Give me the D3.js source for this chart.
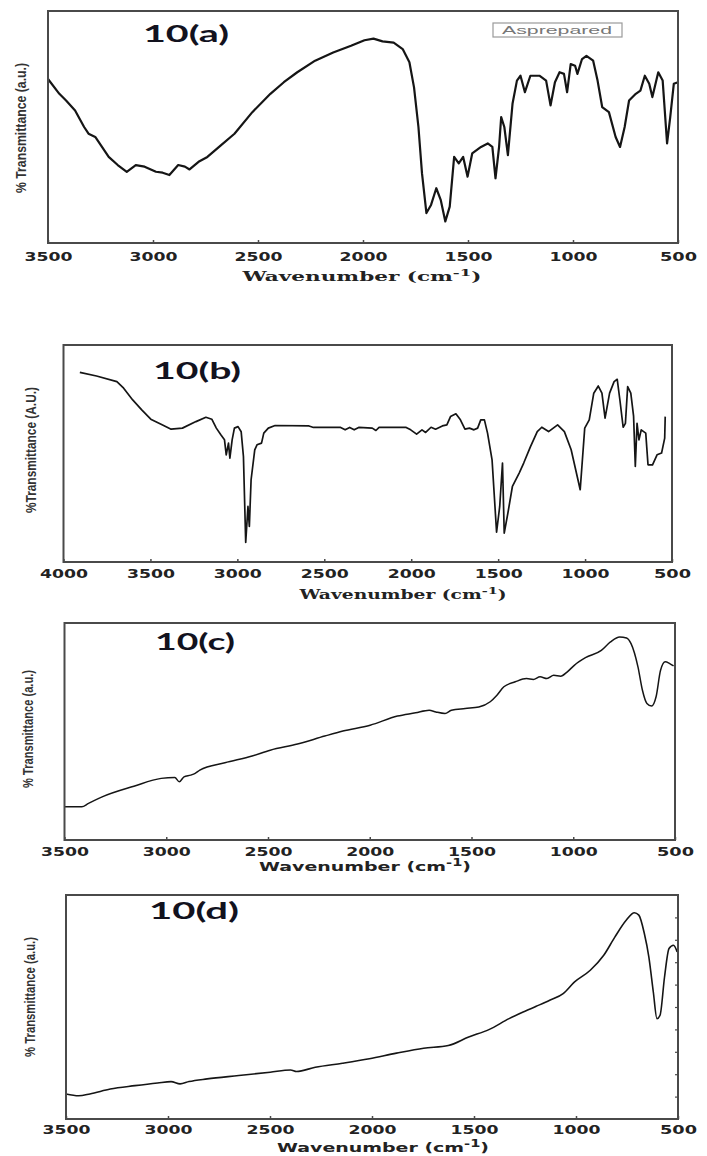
<!DOCTYPE html>
<html>
<head>
<meta charset="utf-8">
<script src="https://cdn.jsdelivr.net/npm/d3@7"></script>
<style>
body{margin:0;background:#fff;}
</style>
</head>
<body>
<script>
// FTIR spectra, wavenumber (cm-1) vs transmittance (arbitrary units, 0 = frame bottom, 100 = frame top)
var wnA = [3500,3446,3414,3371,3328,3307,3275,3211,3168,3125,3082,3040,2986,2954,2922,2880,2848,2826,2783,2741,2677,2612,2527,2441,2377,2313,2228,2142,2057,1993,1950,1907,1854,1811,1779,1757,1736,1719,1698,1676,1651,1630,1608,1587,1566,1544,1523,1502,1480,1438,1406,1384,1369,1352,1342,1327,1310,1288,1267,1250,1229,1203,1160,1128,1107,1086,1064,1043,1028,1011,990,979,957,936,904,883,861,829,797,776,754,733,701,679,658,637,622,594,573,552,537,520,500];
var tA = [70.7,64.3,61.4,57.1,50,47.1,45.7,37.1,33.6,30.7,33.6,32.9,30.7,30.3,29.3,33.6,32.9,31.7,35,37.1,42.1,47.1,56.4,64.3,69.3,73.6,78.6,82.1,85,87.4,88.1,86.9,86.4,83.6,77.9,67.1,50,30,12.9,16.4,23.6,18.6,9.3,15.7,37.1,34.3,37.1,28.6,38.6,41.4,42.9,41.4,27.9,41.4,54.3,50,37.9,60,70,72.1,65,72.1,72.1,70,59.3,69.3,73.6,72.9,65,77.1,76.4,72.9,79.3,80.7,78.6,70,58.6,56.4,45.7,41.4,50,61.4,64.3,65.7,72.1,68.6,62.9,73.6,70,42.9,54.3,68.6,69.3];

var wnB = [3906,3810,3693,3654,3602,3550,3498,3433,3381,3316,3238,3181,3147,3121,3095,3074,3064,3051,3043,3030,3017,2996,2978,2965,2952,2939,2931,2921,2900,2887,2861,2848,2822,2783,2588,2562,2406,2380,2354,2328,2302,2224,2203,2185,2029,2003,1969,1938,1917,1886,1860,1821,1795,1774,1743,1717,1691,1665,1639,1618,1600,1579,1561,1535,1509,1491,1475,1465,1444,1418,1379,1353,1314,1275,1249,1210,1158,1119,1080,1041,1028,1002,976,950,924,903,885,859,833,815,799,781,768,755,737,721,711,701,690,677,651,638,612,586,560,542,539];
var tB = [87.4,85.7,83.1,80.1,74.7,70.1,65.8,63.2,61.2,61.7,64.7,66.7,65.8,61.7,58.6,56.3,49.4,54.8,47.9,56.3,61.7,62.4,60.0,48.6,9.0,25.6,16.4,37.9,51.7,54.0,54.8,59.4,61.7,62.9,62.7,62,62,60.9,62,60.9,62,61.7,60.6,62,62,60.9,58.9,60.9,59.7,62.1,61.2,62.7,63.2,67,68.3,65.5,61.2,61.7,60.9,61.7,65.5,65.5,59.4,47.1,13.7,25.6,45.6,13.3,22.5,34.8,41,45.6,53.2,60.1,62.1,60.1,63.2,60.1,51.7,37.9,33.3,61.7,65.5,77.8,81.1,77.8,66.3,77.8,83.1,84.2,74.2,62.1,63.9,80.8,77.8,67.2,44,63.9,56.3,60.9,59.4,44.8,44.8,49.4,50.2,57.1,67];

var wnC = [3500,3415,3382,3315,3159,3025,2958,2936,2913,2880,2858,2835,2712,2578,2489,2355,2221,2132,1998,1864,1775,1708,1675,1630,1599,1531,1464,1408,1375,1341,1285,1230,1196,1163,1129,1096,1062,1029,995,940,862,817,772,738,716,682,660,638,615,593,571,548,526,507];
var tC = [15.3,15.3,16.9,19.9,24.8,28.4,28.8,26.8,29.1,29.9,30.7,32.2,35.6,38.7,41.4,44.2,47.9,50.2,52.9,57.1,58.6,59.8,59.0,58.3,59.8,60.6,61.3,63.7,66.7,70.6,72.9,74.4,74.0,75.2,74.4,75.9,75.5,77.5,80.5,84,87.4,91.3,93.6,93.1,90.5,79.8,69,62.9,61.7,66,78.2,82.1,81.3,80.2];

var wnD = [3500,3438,3383,3283,3162,3051,2985,2941,2897,2808,2653,2499,2399,2370,2278,2145,2013,1880,1747,1626,1526,1427,1328,1250,1195,1129,1063,1007,930,864,809,753,714,692,665,643,621,603,588,566,544,522,504];
var tD = [11.2,10.4,11.2,13.4,14.9,16.1,16.7,15.7,16.7,17.9,19.4,20.9,21.9,21.2,23.1,24.9,26.9,29.4,31.6,32.8,36.6,39.9,44.8,48.1,50.3,53,56,61.2,66.4,73.1,81.3,88.8,92.1,91,82.8,72.4,56.7,44.8,46.3,63.4,76.1,77.6,74.6];

var ticks3500 = [3500,3000,2500,2000,1500,1000,500];
var ticks4000 = [4000,3500,3000,2500,2000,1500,1000,500];
var yTicksD = [10,20,30,40,50,60,70,80,90];
var titles = ["10(a)","10(b)","10(c)","10(d)"];
var yLabels = ["% Transmittance (a.u.)","%Transmittance (A.U.)","% Transmittance (a.u.)","% Transmittance (a.u.)"];
var legendText = "Asprepared";

// layout of each panel (pixel positions), data comes from the arrays above
var panels = [
  {wn:wnA, t:tA, ticks:ticks3500, left:48, right:678, top:11, bottom:243, pad:9, lw:2.2,
   xl:{x:362, y:281, w:239, font:"'DejaVu Serif', serif"}, yl:{x:21, y:128, w:130}, ti:{x:143, y:42, w:86}, curve:d3.curveLinear},
  {wn:wnB, t:tB, ticks:ticks4000, left:63.5, right:672, top:345, bottom:562, pad:7, lw:1.7,
   xl:{x:403, y:599, w:207, font:"'DejaVu Serif', serif"}, yl:{x:31, y:450, w:126}, ti:{x:153, y:379, w:88}, curve:d3.curveLinear},
  {wn:wnC, t:tC, ticks:ticks3500, left:64.5, right:675, top:623, bottom:840, pad:7.5, lw:1.5,
   xl:{x:365, y:871, w:212, font:"'DejaVu Sans', sans-serif"}, yl:{x:28, y:729, w:118}, ti:{x:155, y:650, w:80}, curve:d3.curveMonotoneX},
  {wn:wnD, t:tD, ticks:ticks3500, left:66, right:678, top:895, bottom:1119, pad:6.5, lw:1.6, yTicks:yTicksD,
   xl:{x:383, y:1152, w:212, font:"'DejaVu Sans', sans-serif"}, yl:{x:30, y:997, w:120}, ti:{x:149, y:919, w:90}, curve:d3.curveMonotoneX}
];

var svg = d3.select("body").append("svg")
  .attr("width", 707)
  .attr("height", 1156);

function stretch(sel, len) {
  sel.attr("textLength", len).attr("lengthAdjust", "spacingAndGlyphs");
}

panels.forEach(function(p, i) {
  var x = d3.scaleLinear().domain([p.ticks[0], p.ticks[p.ticks.length - 1]]).range([p.left, p.right]);
  var y = d3.scaleLinear().domain([0, 100]).range([p.bottom, p.top]);
  var g = svg.append("g");

  //spectrum line
  var line = d3.line()
    .x(function(d) { return x(d[0]); })
    .y(function(d) { return y(d[1]); })
    .curve(p.curve);
  g.append("path")
    .datum(d3.zip(p.wn, p.t))
    .attr("fill", "none")
    .attr("stroke", "#151515")
    .attr("stroke-width", p.lw)
    .attr("stroke-linejoin", "round")
    .attr("d", line);

  //frame
  g.append("rect")
    .attr("x", p.left).attr("y", p.top)
    .attr("width", p.right - p.left).attr("height", p.bottom - p.top)
    .attr("fill", "none")
    .attr("stroke", "#4a4a4a")
    .attr("stroke-width", 2);

  //bottom axis with small inward ticks
  var ax = g.append("g")
    .attr("transform", "translate(0," + p.bottom + ")")
    .call(d3.axisBottom(x).tickValues(p.ticks).tickSize(-3).tickPadding(p.pad).tickFormat(d3.format("d")));
  ax.select(".domain").remove();
  ax.selectAll(".tick line").attr("stroke", "#4a4a4a").attr("stroke-width", 1.5);
  ax.selectAll(".tick text")
    .attr("fill", "#222")
    .style("font-family", "'DejaVu Sans', sans-serif")
    .style("font-weight", "bold")
    .style("font-size", "12px")
    .each(function(d) {
      stretch(d3.select(this), String(d).length == 4 ? 48 : 37);
    });

  //right axis ticks (only panel d shows them)
  if (p.yTicks) {
    var ay = g.append("g")
      .attr("transform", "translate(" + p.right + ",0)")
      .call(d3.axisLeft(y).tickValues(p.yTicks).tickSize(3).tickFormat(""));
    ay.select(".domain").remove();
    ay.selectAll(".tick line").attr("stroke", "#4a4a4a").attr("stroke-width", 1.2);
  }

  //x axis label
  var xt = g.append("text")
    .attr("x", p.xl.x).attr("y", p.xl.y)
    .attr("text-anchor", "middle")
    .attr("fill", "#222")
    .style("font-family", p.xl.font)
    .style("font-weight", "bold")
    .style("font-size", "13px");
  xt.append("tspan").text("Wavenumber (cm");
  xt.append("tspan").attr("dy", -5).style("font-size", "10px").text("-1");
  xt.append("tspan").attr("dy", 5).text(")");
  stretch(xt, p.xl.w);

  //y axis label
  var yt = g.append("text")
    .attr("transform", "translate(" + p.yl.x + "," + p.yl.y + ") rotate(-90)")
    .attr("text-anchor", "middle")
    .attr("dy", "0.35em")
    .attr("fill", "#333")
    .style("font-family", "'Liberation Sans', Arial, sans-serif")
    .style("font-weight", "bold")
    .style("font-size", "14px")
    .text(yLabels[i]);
  stretch(yt, p.yl.w);

  //panel title
  var tt = g.append("text")
    .attr("x", p.ti.x).attr("y", p.ti.y)
    .attr("fill", "#12121e")
    .style("font-family", "Lato, 'Open Sans', sans-serif")
    .style("font-weight", "bold")
    .style("font-size", "22px")
    .text(titles[i]);
  stretch(tt, p.ti.w);

  //legend box only on the first panel
  if (i == 0) {
    g.append("rect")
      .attr("x", 493).attr("y", 23)
      .attr("width", 129).attr("height", 14)
      .attr("fill", "#fff")
      .attr("stroke", "#9a9a9a")
      .attr("stroke-width", 1.2);
    var lt = g.append("text")
      .attr("x", 557).attr("y", 34)
      .attr("text-anchor", "middle")
      .attr("fill", "#777")
      .style("font-family", "'Liberation Sans', Arial, sans-serif")
      .style("font-size", "11px")
      .text(legendText);
    stretch(lt, 110);
  }
});
</script>
</body>
</html>
